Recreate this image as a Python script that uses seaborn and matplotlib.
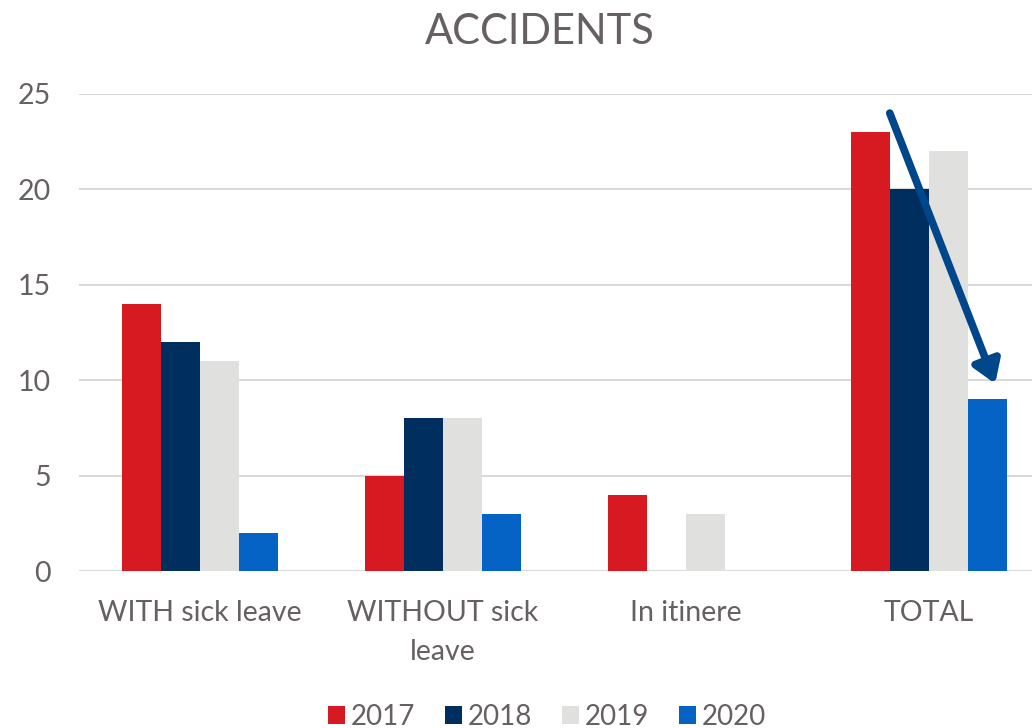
import pandas as pd
import matplotlib.pyplot as plt
import seaborn as sns
from matplotlib.patches import Patch

# ======= DATA =======
categories = ["WITH sick leave", "WITHOUT sick\nleave", "In itinere", "TOTAL"]
years = ["2017", "2018", "2019", "2020"]
vals_2017 = [14, 5, 4, 23]
vals_2018 = [12, 8, 0, 20]
vals_2019 = [11, 8, 3, 22]
vals_2020 = [2, 3, 0, 9]
colors = ["#D71A21", "#002F5F", "#E0E0DF", "#0563C6"]
# ====================

df = pd.DataFrame({
    "category": categories * 4,
    "year": [y for y in years for _ in categories],
    "value": vals_2017 + vals_2018 + vals_2019 + vals_2020,
})

sns.set_style("white")
plt.rcParams["font.family"] = ["Lato", "DejaVu Sans"]
text_color = "#666062"

fig = plt.figure(figsize=(10.32, 7.28), dpi=100)
# axes runs off the right edge like the cropped original
ax = fig.add_axes([78.5 / 1032, (728 - 571) / 728, 972 / 1032, (571 - 94) / 728])

sns.barplot(data=df, x="category", y="value", hue="year", palette=colors,
            width=0.646, saturation=1, linewidth=0, ax=ax, legend=False, zorder=3)

ax.set_xlim(-0.5, 3.5)
ax.set_ylim(0, 25)
ax.set_yticks([0, 5, 10, 15, 20, 25])
ax.grid(axis="y", color="#D9D9D9", linewidth=1.5, zorder=0)
ax.set_axisbelow(True)
for s in ax.spines.values():
    s.set_visible(False)
ax.tick_params(axis="both", length=0, labelsize=20.5, colors=text_color)
ax.tick_params(axis="y", pad=20)
ax.tick_params(axis="x", pad=21)
for lbl in ax.get_xticklabels():
    lbl.set_linespacing(1.62)
ax.set_xlabel("")
ax.set_ylabel("")

fig.text(540 / 1032, 1 - 32 / 728, "ACCIDENTS", ha="center", va="center",
         fontsize=30, color=text_color)

# trend arrow across the TOTAL group, from the 2017 bar to the 2020 bar
half = 0.646 / 2
bw = 0.646 / 4
x0 = 3 - half + bw
x1 = 3 + half - bw / 2 + 0.03
ax.annotate("", xy=(x1, vals_2020[3] + 0.82), xytext=(x0, vals_2017[3] + 1.0),
            arrowprops=dict(arrowstyle="-|>,head_width=0.85,head_length=1.3",
                            color="#00468B", lw=5.5, shrinkA=0, shrinkB=0),
            zorder=5)

handles = [Patch(facecolor=c, edgecolor="none") for c in colors]
fig.legend(handles, years, loc="center", bbox_to_anchor=(547 / 1032, 1 - 717 / 728),
           ncol=4, frameon=False, fontsize=20, labelcolor=text_color,
           handlelength=0.62, handleheight=0.62, handletextpad=0.22, columnspacing=1.05)

plt.savefig("out.png", dpi=100)
